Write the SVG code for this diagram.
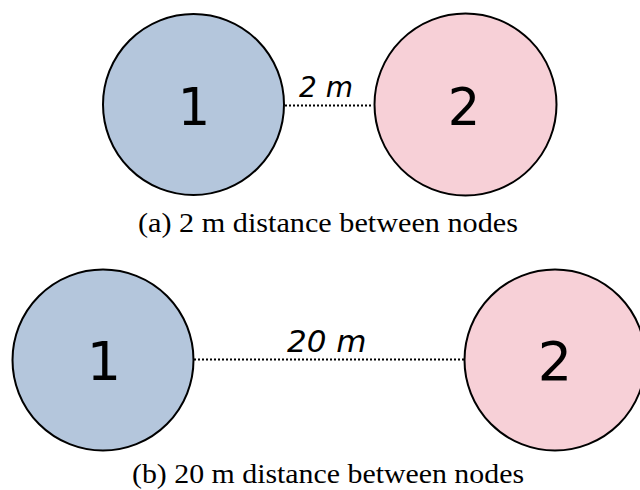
<svg xmlns="http://www.w3.org/2000/svg" width="640" height="490" viewBox="0 0 640 490">
<style>
.n1{fill:#b4c6dc;stroke:#000;stroke-width:2}
.n2{fill:#f7d0d7;stroke:#000;stroke-width:2}
.num{font-family:"DejaVu Sans",sans-serif;text-anchor:middle;fill:#000}
.lbl{font-family:"DejaVu Sans",sans-serif;font-style:italic;fill:#000}
.cap{font-family:"Liberation Serif","Times New Roman",serif;font-size:27px;text-anchor:middle;fill:#000}
.link{stroke:#000;stroke-width:2;stroke-dasharray:2 2;fill:none}
</style>
<rect width="640" height="490" fill="#fff"/>
<g id="connectors">
<line class="link" x1="285" y1="105.5" x2="373" y2="105.5"/>
<line class="link" x1="194" y1="359.5" x2="464" y2="359.5"/>
</g>
<g id="a-node1"><circle class="n1" cx="193.5" cy="104.5" r="90.5"/><text class="num" x="194" y="124.5" font-size="51">1</text></g>
<g id="a-node2"><circle class="n2" cx="465.5" cy="104.5" r="91"/><text class="num" x="464" y="124.5" font-size="51">2</text></g>
<text class="lbl" x="299" y="96.5" font-size="28">2 m</text>
<text class="cap" x="328" y="232" textLength="380" lengthAdjust="spacingAndGlyphs">(a) 2 m distance between nodes</text>
<g id="b-node1"><circle class="n1" cx="103" cy="360" r="90.5"/><text class="num" x="104" y="380" font-size="54">1</text></g>
<g id="b-node2"><circle class="n2" cx="555" cy="360" r="90.5"/><text class="num" x="555" y="380" font-size="54">2</text></g>
<text class="lbl" x="287" y="352" font-size="31">20 m</text>
<text class="cap" x="328" y="483" textLength="392" lengthAdjust="spacingAndGlyphs">(b) 20 m distance between nodes</text>
</svg>
